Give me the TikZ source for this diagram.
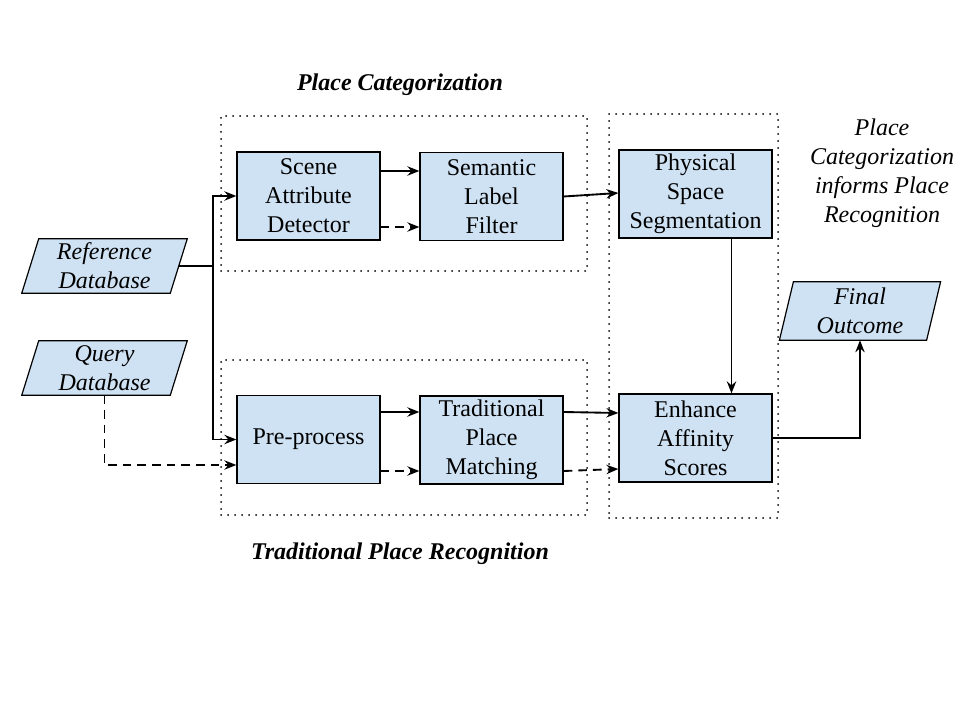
\documentclass[tikz,border=0pt]{standalone}
\usepackage{fontspec}
\setmainfont{Liberation Serif}
\usetikzlibrary{arrows.meta,calc,backgrounds}
\definecolor{boxblue}{HTML}{CFE2F3}
\tikzset{
  procbox/.style={draw=black, line width=0.9pt, fill=boxblue, rectangle, inner sep=0pt,
    minimum width=107.25pt, minimum height=66pt, align=center,
    font=\fontsize{18}{21.75}\selectfont},
  widebox/.style={procbox, minimum width=114.75pt},
  dbtext/.style={rectangle, inner sep=0pt, align=center,
    font=\fontsize{18}{21.75}\selectfont\itshape},
  dbshape/.style={draw=black, line width=0.9pt, fill=boxblue},
  grp/.style={draw=black, line width=1.5pt, dash pattern=on 0pt off 5.25pt, line cap=round},
  arr/.style={-{Stealth[length=9pt,width=7pt,inset=3pt]}, line width=1.4pt},
  darr/.style={arr, dash pattern=on 6.5pt off 4.5pt},
  title/.style={font=\fontsize{18}{21.75}\selectfont\bfseries\itshape},
  note/.style={font=\fontsize{18}{21.75}\selectfont\itshape, align=center}
}
\begin{document}
\begin{tikzpicture}[x=0.75pt,y=-0.75pt]
\useasboundingbox (0,0) rectangle (960,720);
% group boxes
\node[grp, rectangle, minimum width=274.5pt, minimum height=116.25pt, inner sep=0pt] (g1) at (404,193.5) {};
\node[grp, rectangle, minimum width=274.5pt, minimum height=116.25pt, inner sep=0pt] (g2) at (404,437.5) {};
\node[grp, rectangle, minimum width=126.75pt, minimum height=303pt, inner sep=0pt] (g3) at (693.5,316) {};
% titles
\node[title] (t1) at (400,85) {Place Categorization};
\node[title] (t2) at (400,554) {Traditional Place Recognition};
\node[note] (t3) at (882,173.5) {Place\\Categorization\\informs Place\\Recognition};
% process boxes
\node[procbox] (scene) at (308.5,196) {Scene\\Attribute\\Detector};
\node[procbox] (sem) at (491.5,196.5) {Semantic\\Label\\Filter};
\node[widebox] (phys) at (695.5,194) {Physical\\Space\\Segmentation};
\node[procbox] (pre) at (308.5,439.5) {Pre-process};
\node[procbox] (trad) at (491.5,440) {Traditional\\Place\\Matching};
\node[widebox] (enh) at (695.5,438) {Enhance\\Affinity\\Scores};
% databases
\node[dbtext, minimum width=111pt, minimum height=40.5pt] (ref) at (104.5,266) {Reference\\Database};
\node[dbtext, minimum width=111pt, minimum height=40.5pt] (qry) at (104.5,368) {Query\\Database};
\node[dbtext, minimum width=110pt, minimum height=43.5pt] (fin) at (860,311) {Final\\Outcome};
\begin{scope}[on background layer]
\draw[dbshape] ($(ref.north west)+(8.5,0)$) -- ($(ref.north east)+(8.5,0)$) -- ($(ref.south east)+(-8.5,0)$) -- ($(ref.south west)+(-8.5,0)$) -- cycle;
\draw[dbshape] ($(qry.north west)+(8.5,0)$) -- ($(qry.north east)+(8.5,0)$) -- ($(qry.south east)+(-8.5,0)$) -- ($(qry.south west)+(-8.5,0)$) -- cycle;
\draw[dbshape] ($(fin.north west)+(7,0)$) -- ($(fin.north east)+(7,0)$) -- ($(fin.south east)+(-7,0)$) -- ($(fin.south west)+(-7,0)$) -- cycle;
\end{scope}
% connectors
\coordinate (split) at (213,266);
\draw[line width=1.4pt] (ref.east) -- (split);
\draw[arr] (split) |- (scene.west);
\draw[arr] (split) |- (pre.west);
\draw[darr] (qry.south) |- ($(pre.west)+(0,25.5)$);
\draw[arr] ($(scene.east)+(0,-25)$) -- ($(sem.west)+(0,-25.5)$);
\draw[darr] ($(scene.east)+(0,31)$) -- ($(sem.west)+(0,30.5)$);
\draw[arr] (sem.east) -- ($(phys.west)+(0,-1)$);
\draw[arr] ($(pre.east)+(0,-27.5)$) -- ($(trad.west)+(0,-28)$);
\draw[darr] ($(pre.east)+(0,31.5)$) -- ($(trad.west)+(0,31)$);
\draw[arr] ($(trad.east)+(0,-28)$) -- ($(enh.west)+(0,-25)$);
\draw[darr] ($(trad.east)+(0,31)$) -- ($(enh.west)+(0,31)$);
\draw[arr] ($(phys.south)+(36,0)$) -- ($(enh.north)+(36,0)$);
\draw[arr] (enh.east) -| (fin.south);
\end{tikzpicture}
\end{document}
